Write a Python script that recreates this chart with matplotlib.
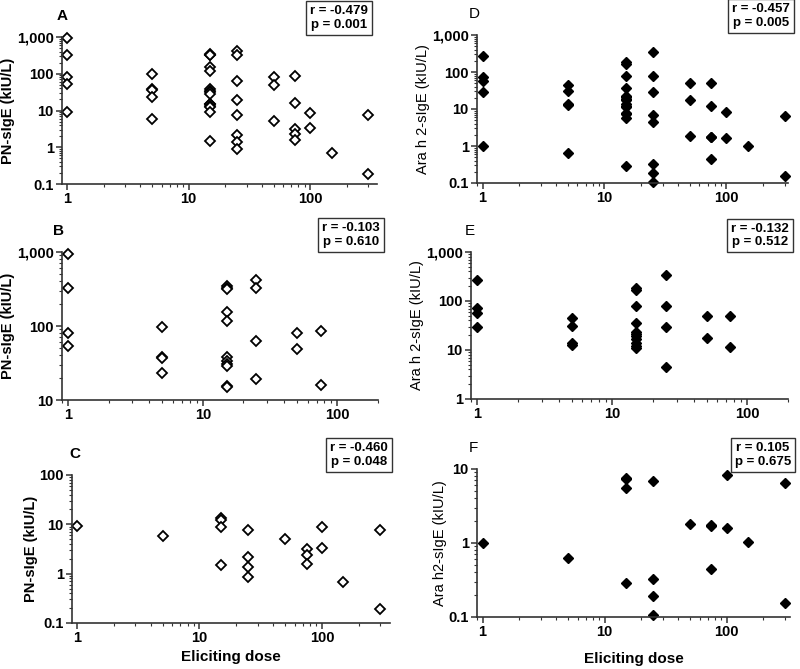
import matplotlib
matplotlib.use("Agg")
import matplotlib.pyplot as plt
from matplotlib.ticker import FixedLocator, LogLocator, NullFormatter

plt.rcParams["font.family"] = ["Liberation Sans", "DejaVu Sans"]

# high PN-sIgE group (panels B / E)
dose_high = [1, 1, 1, 1,
             5, 5, 5, 5,
             15, 15, 15, 15, 15, 15, 15, 15, 15, 15, 15,
             25, 25, 25, 25,
             50, 50,
             75, 75]
pn_high = [950, 324, 81, 53,
           98, 38, 37, 23,
           349, 324, 315, 157, 118, 38, 34, 31, 29, 15.5, 14.8,
           421, 324, 62, 19,
           80, 49,
           86, 16]
ara_high = [267, 72, 58, 29,
            45, 31, 14, 12.5,
            181, 167, 79, 36, 23, 21, 19, 17, 14, 12, 11,
            337, 79, 29, 4.4,
            50, 17.3,
            50, 11.7]

# low PN-sIgE group (panels C / F)
dose_low = [1, 5, 15, 15, 15, 15, 25, 25, 25, 25, 50, 75, 75, 75, 100, 100, 150, 300, 300]
pn_low = [9.2, 5.8, 13.2, 12.2, 9.0, 1.48, 7.7, 2.2, 1.36, 0.87, 5.1, 3.2, 2.35, 1.6,
          8.7, 3.3, 0.68, 7.7, 0.19]
ara_low = [1.0, 0.63, 7.6, 5.6, 0.29, 7.4, 6.95, 0.33, 0.19, 0.106, 1.83, 1.72, 0.44, 1.75,
           8.4, 1.61, 1.03, 6.4, 0.155]

stats = {
    "A": ("-0.479", "0.001"), "B": ("-0.103", "0.610"), "C": ("-0.460", "0.048"),
    "D": ("-0.457", "0.005"), "E": ("-0.132", "0.512"), "F": ("0.105", "0.675"),
}

W, H = 800, 669
fig = plt.figure(figsize=(8, 6.69), dpi=100)


def make_ax(left, right, top, bottom):
    return fig.add_axes([left / W, 1 - bottom / H, (right - left) / W, (bottom - top) / H])


def style_ax(ax, xlim, yticks, ylabels, ylabel, label_bold):
    ax.set_xscale("log")
    ax.set_yscale("log")
    ax.set_xlim(*xlim)
    ax.set_ylim(yticks[0], yticks[-1])
    ax.spines["top"].set_visible(False)
    ax.spines["right"].set_visible(False)
    for s in ("left", "bottom"):
        ax.spines[s].set_linewidth(1.2)
        ax.spines[s].set_color("#333333")
    ax.xaxis.set_major_locator(FixedLocator([1, 10, 100]))
    ax.set_xticklabels(["1", "10", "100"], fontweight="bold", fontsize=10.5)
    ax.xaxis.set_minor_locator(LogLocator(base=10, subs=range(2, 10)))
    ax.xaxis.set_minor_formatter(NullFormatter())
    ax.yaxis.set_major_locator(FixedLocator(yticks))
    ax.set_yticklabels(ylabels, fontweight="bold", fontsize=10.5)
    ax.yaxis.set_minor_locator(LogLocator(base=10, subs=range(2, 10)))
    ax.yaxis.set_minor_formatter(NullFormatter())
    ax.tick_params(which="major", length=4, width=1.1, color="#333333", pad=2)
    ax.tick_params(which="minor", length=2, width=0.8, color="#333333")
    ax.set_ylabel(ylabel, fontsize=10.5, fontweight="bold" if label_bold else "normal",
                  labelpad=1)


def add_stats(ax, key, x, y):
    r, p = stats[key]
    ax.text(x, y, f"r = {r}\np = {p}", transform=ax.transAxes, ha="right", va="top",
            fontsize=9.5, fontweight="bold", multialignment="center",
            bbox=dict(boxstyle="square,pad=0.3", fc="white", ec="#333333", lw=1))


def add_letter(ax, key, x, bold):
    ax.text(x, 1.14, key, transform=ax.transAxes, ha="center", va="center",
            fontsize=11, fontweight="bold" if bold else "normal")


open_kw = dict(marker="D", ms=5.6, mfc="white", mec="black", mew=1.3, ls="none", clip_on=False)
fill_kw = dict(marker="D", ms=5.6, mfc="black", mec="black", mew=1.0, ls="none", clip_on=False)

dec4 = [0.1, 1, 10, 100, 1000]
dec4_lab = ["0.1", "1", "10", "100", "1,000"]

# A
ax = make_ax(62, 377, 37, 184)
ax.plot(dose_high + dose_low, pn_high + pn_low, **open_kw)
style_ax(ax, (0.91, 355), dec4, dec4_lab, "PN-sIgE (kIU/L)", True)
add_stats(ax, "A", 0.971, 1.218)
add_letter(ax, "A", 0.0, True)

# B
ax = make_ax(62, 378, 252, 400)
ax.plot(dose_high, pn_high, **open_kw)
style_ax(ax, (0.9, 200), [10, 100, 1000], ["10", "100", "1,000"], "PN-sIgE (kIU/L)", True)
add_stats(ax, "B", 1.006, 1.20)
add_letter(ax, "B", -0.01, True)

# C
ax = make_ax(72, 390, 475, 623)
ax.plot(dose_low, pn_low, **open_kw)
style_ax(ax, (0.91, 360), [0.1, 1, 10, 100], ["0.1", "1", "10", "100"], "PN-sIgE (kIU/L)", True)
ax.set_xlabel("Eliciting dose", fontsize=11, fontweight="bold", labelpad=3)
add_stats(ax, "C", 0.994, 1.22)
add_letter(ax, "C", 0.01, True)

# D
ax = make_ax(477, 788, 35, 183)
ax.plot(dose_high + dose_low, ara_high + ara_low, **fill_kw)
style_ax(ax, (0.9, 320), dec4, dec4_lab, "Ara h 2-sIgE (kIU/L)", False)
add_stats(ax, "D", 1.006, 1.216)
add_letter(ax, "D", -0.01, False)

# E
ax = make_ax(471, 788, 252, 399)
ax.plot(dose_high, ara_high, **fill_kw)
style_ax(ax, (0.9, 200), [1, 10, 100, 1000], ["1", "10", "100", "1,000"], "Ara h 2-sIgE (kIU/L)", False)
add_stats(ax, "E", 1.003, 1.20)
add_letter(ax, "E", -0.005, False)

# F
ax = make_ax(477, 790, 469, 617)
ax.plot(dose_low, ara_low, **fill_kw)
style_ax(ax, (0.9, 330), [0.1, 1, 10], ["0.1", "1", "10"], "Ara h2-sIgE (kIU/L)", False)
ax.set_xlabel("Eliciting dose", fontsize=11, fontweight="bold", labelpad=9)
add_stats(ax, "F", 1.003, 1.18)
add_letter(ax, "F", -0.01, False)

fig.savefig("out.png", dpi=100)
